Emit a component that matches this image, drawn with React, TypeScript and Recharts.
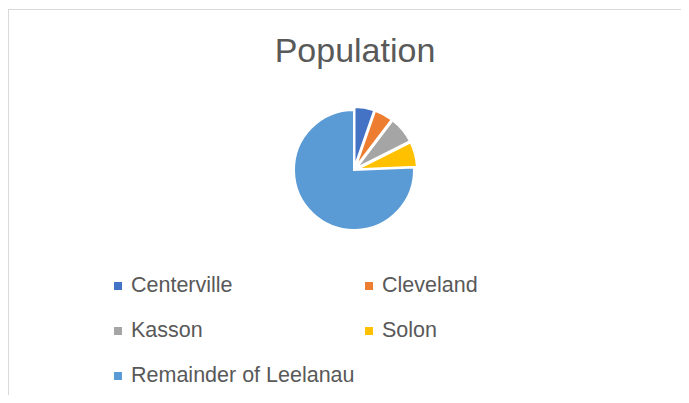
import { PieChart, Pie, Cell, Sector, Legend } from 'recharts';

// Population by township
const names = ['Centerville', 'Cleveland', 'Kasson', 'Solon', 'Remainder of Leelanau'];
const population = [1150, 1080, 1560, 1450, 16300];
const colors = ['#4472C4', '#ED7D31', '#A5A5A5', '#FFC000', '#5B9BD5'];
// how far each slice is pulled out of the pie
const explode = [3, 3, 3, 3, 0];

const data = names.map((name, i) => ({ name, value: population[i] }));

const RADIAN = Math.PI / 180;
const FONT = '"Liberation Sans", Arial, sans-serif';
const TEXT = '#595959';

// Sector shifted outward along its mid angle
const ExplodedSlice = (props: any, i?: number) => {
  const idx = names.indexOf(props.name ?? props.payload?.name);
  const d = explode[idx >= 0 ? idx : i ?? 0] ?? 0;
  const dx = d * Math.cos(-props.midAngle * RADIAN);
  const dy = d * Math.sin(-props.midAngle * RADIAN);
  return <Sector {...props} cx={props.cx + dx} cy={props.cy + dy} />;
};

// keep the legend in data order (recharts sorts it by name otherwise)
const renderLegend = (props: any) => {
  const payload = props.payload || [];
  const items = names.map((n, i) => {
    const hit = payload.find((p: any) => p.value === n);
    return { label: n, color: hit?.color ?? colors[i] };
  });
  return (
    <div
      style={{
        display: 'grid',
        gridTemplateColumns: '251px 251px',
        fontFamily: FONT,
        fontSize: 21.5,
        color: TEXT,
      }}
    >
      {items.map((it) => (
        <div key={it.label} style={{ display: 'flex', alignItems: 'center', height: 45, lineHeight: '45px', whiteSpace: 'nowrap' }}>
          <span style={{ width: 8, height: 8, background: it.color, marginRight: 9, display: 'inline-block' }} />
          <span>{it.label}</span>
        </div>
      ))}
    </div>
  );
};

export default function App() {
  return (
    <div style={{ width: 673, height: 387, overflow: 'hidden', position: 'relative' }}>
      <div
        style={{
          position: 'absolute',
          left: 0,
          top: 1,
          width: 700,
          height: 420,
          borderLeft: '1px solid #d9d9d9',
          borderTop: '1px solid #d9d9d9',
          background: '#fff',
        }}
      >
        <div
          style={{
            position: 'absolute',
            left: 146,
            top: 23,
            width: 400,
            textAlign: 'center',
            fontFamily: FONT,
            fontSize: 34,
            lineHeight: '34px',
            color: TEXT,
          }}
        >
          Population
        </div>
        <PieChart width={672} height={400}>
          <Pie
            data={data}
            dataKey="value"
            nameKey="name"
            cx={340}
            cy={155}
            outerRadius={60}
            startAngle={90}
            endAngle={-270}
            stroke="#fff"
            strokeWidth={2}
            shape={ExplodedSlice}
            isAnimationActive={false}
          >
            {data.map((d, i) => (
              <Cell key={d.name} fill={colors[i]} />
            ))}
          </Pie>
          <Legend
            content={renderLegend}
            wrapperStyle={{ position: 'absolute', left: 105, top: 253, width: 520, height: 140 }}
          />
        </PieChart>
      </div>
    </div>
  );
}
